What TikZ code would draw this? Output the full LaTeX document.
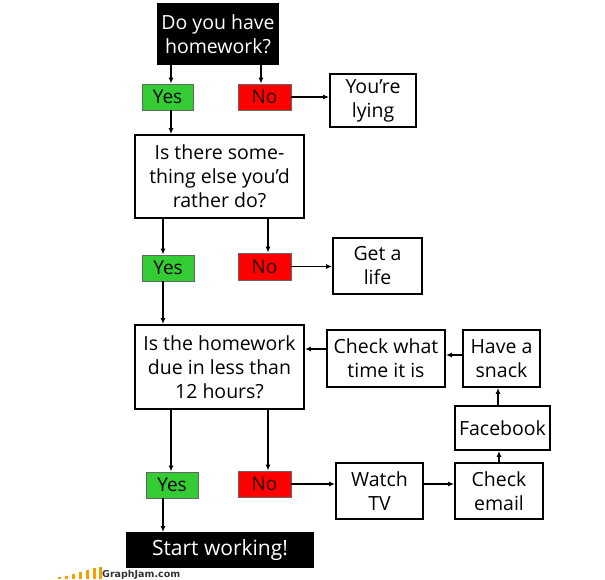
\documentclass[tikz,border=0pt]{standalone}
\usepackage{fontspec}
\setmainfont{Open Sans}
\newfontfamily\logofont{DejaVu Sans}
\usetikzlibrary{arrows.meta}
\definecolor{yesgreen}{HTML}{33CC33}
\definecolor{nored}{HTML}{FF0000}
\definecolor{logoorange}{HTML}{F5A000}
\tikzset{
  box/.style={draw=black, line width=1.9pt, fill=white, text=black, inner sep=0pt, align=center,
    font=\fontsize{19.5}{24}\selectfont},
  blackbox/.style={box, fill=black, text=white},
  startbox/.style={blackbox, font=\fontsize{21}{24}\selectfont},
  yesbox/.style={draw=black!60, line width=0.8pt, fill=yesgreen, text=black, inner sep=0pt,
    font=\fontsize{19}{20}\selectfont},
  nobox/.style={draw=black!60, line width=0.8pt, fill=nored, text=black!85!red, inner sep=0pt,
    font=\fontsize{19}{20}\selectfont},
  arr/.style={line width=1.7pt, -{Latex[length=6pt,width=5pt]}},
}
\newcommand{\bx}[7]{% style, name, x1, y1, x2, y2, text
  \node[#1, minimum width={(#5-#3)*1pt}, minimum height={(#6-#4)*1pt}]
    (#2) at ({(#3+#5)/2},{(#4+#6)/2}) {#7};}
\begin{document}
\begin{tikzpicture}[x=1pt,y=-1pt]
\useasboundingbox[fill=white] (0,0) rectangle (605,580);
% boxes
\bx{blackbox}{q1}{158}{4}{278}{64}{Do you have\\homework?}
\bx{yesbox}{y1}{142}{84}{193}{110}{Yes}
\bx{nobox}{n1}{238}{84}{291}{110}{No}
\bx{box}{lying}{330}{74}{416}{127}{You’re\\lying}
\bx{box}{q2}{135}{135}{304}{218}{Is there some-\\thing else you’d\\rather do?}
\bx{yesbox}{y2}{142}{255}{194}{281}{Yes}
\bx{nobox}{n2}{238}{253}{291}{280}{No}
\bx{box}{life}{333}{238}{422}{294}{Get a\\life}
\bx{box}{q3}{135}{325}{304}{409}{Is the homework\\due in less than\\12 hours?}
\bx{box}{time}{327}{330}{445}{387}{Check what\\time it is}
\bx{box}{snack}{463}{330}{540}{387}{Have a\\snack}
\bx{box}{fb}{455}{406}{550}{450}{Facebook}
\bx{yesbox}{y3}{146}{472}{198}{498}{Yes}
\bx{nobox}{n3}{238}{471}{291}{497}{No}
\bx{box}{tv}{336}{463}{423}{519}{Watch\\TV}
\bx{box}{email}{455}{463}{543}{519}{Check\\email}
\bx{startbox}{start}{127}{533}{313}{567}{Start working!}
% connectors
\draw[arr] (q1.south -| 171,0) -- (y1.north -| 171,0);
\draw[arr] (q1.south -| 261,0) -- (n1.north -| 261,0);
\draw[arr] (n1.east) -- (lying.west |- n1.east);
\draw[arr] (y1.south -| 171,0) -- (q2.north -| 171,0);
\draw[arr] (q2.south -| 163,0) -- (y2.north -| 163,0);
\draw[arr] (q2.south -| 268,0) -- (n2.north -| 268,0);
\draw[arr] (n2.east) -- (life.west |- n2.east);
\draw[arr] (y2.south -| 163,0) -- (q3.north -| 163,0);
\draw[arr] (time.west |- 0,349) -- (q3.east |- 0,349);
\draw[arr] (snack.west |- 0,355) -- (time.east |- 0,355);
\draw[arr] (fb.north -| 498,0) -- (snack.south -| 498,0);
\draw[arr] (email.north -| 499,0) -- (fb.south -| 499,0);
\draw[arr] (q3.south -| 171,0) -- (y3.north -| 171,0);
\draw[arr] (q3.south -| 268,0) -- (n3.north -| 268,0);
\draw[arr] (n3.east) -- (tv.west |- n3.east);
\draw[arr] (tv.east |- n3.east) -- (email.west |- n3.east);
\draw[arr] (y3.south -| 163,0) -- (start.north -| 163,0);
% logo
\foreach \bxx/\bh in {58/2,65/3,72/5,79/7,86/9,93/11,99/12}
  \fill[logoorange] (\bxx,579) rectangle ++(2.6,-\bh);
\node[anchor=west, inner sep=0pt, font=\logofont\bfseries\fontsize{9.5}{10}\selectfont, text=black!80]
  (logo) at (102,574.5) {GraphJam.com};
\end{tikzpicture}
\end{document}
